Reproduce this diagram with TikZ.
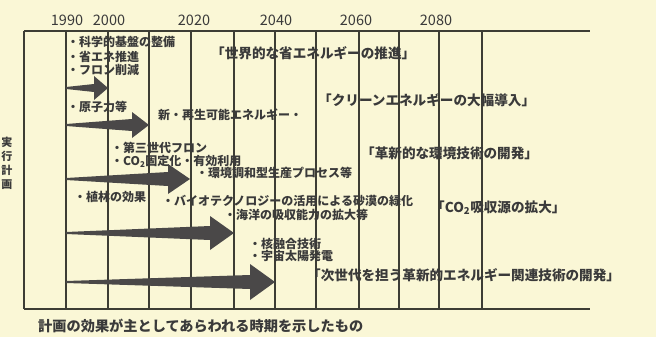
\documentclass[tikz,border=0pt]{standalone}
\usepackage{fontspec}
\setmainfont{Noto Sans CJK JP}
\newfontfamily\jp{Noto Sans CJK JP}
\definecolor{bg}{HTML}{FAF7D6}
\definecolor{ln}{HTML}{3D3D35}
\definecolor{txt}{HTML}{3A3A3A}
\definecolor{af}{HTML}{4A4848}
\newcommand\fatarrow[6]{%
  \fill[arr] (#1,{#2-1}) -- ({#3-#4},{#2-#6}) -- ({#3-#4},{#2-#5}) -- (#3,#2)
     -- ({#3-#4},{#2+#5}) -- ({#3-#4},{#2+#6}) -- (#1,{#2+1}) -- cycle;}
\begin{document}
\begin{tikzpicture}[x=1pt,y=-1pt,
  lbl/.style={anchor=west,inner sep=0pt,text=txt,font=\jp\bfseries\fontsize{12}{12}\selectfont},
  headl/.style={anchor=west,inner sep=0pt,text=txt,font=\jp\bfseries\fontsize{13.6}{14}\selectfont},
  yr/.style={inner sep=0pt,text=txt,font=\jp\fontsize{14.5}{15}\selectfont},
  gridl/.style={draw=ln,line width=1.1pt},
  arr/.style={fill=af}]
\fill[bg] (0,0) rectangle (656,337);
\useasboundingbox (0,0) rectangle (656,337);
% grid
\draw[gridl] (24,31) -- (590,31);
\draw[gridl] (24,309) -- (590,309);
\foreach \x in {24,66,108,149,191,234,275,316,359,399,439,482}
  \draw[gridl] (\x,31) -- (\x,309);
% years
\node[yr] (y1990) at (67,20) {1990};
\node[yr] (y2000) at (109,20) {2000};
\node[yr] (y2020) at (194,20) {2020};
\node[yr] (y2040) at (276,20) {2040};
\node[yr] (y2060) at (356,20) {2060};
\node[yr] (y2080) at (436,20) {2080};
% arrows
\fatarrow{66}{88}{108}{14}{12}{4}
\fatarrow{66}{125}{149}{17}{13}{6}
\fatarrow{66}{179}{190}{22}{15}{7}
\fatarrow{66}{233}{234}{24}{17}{7}
\fatarrow{66}{282}{275}{25}{18}{7}
% texts
\node[lbl] (t1) at (67,42) {・科学的基盤の整備};
\node[lbl] (t2) at (67,57) {・省エネ推進};
\node[lbl] (t3) at (67,70) {・フロン削減};
\node[headl] (h1) at (211,53) {「世界的な省エネルギーの推進」};
\node[lbl] (t4) at (67,107) {・原子力等};
\node[lbl] (t5) at (158,115) {新・再生可能エネルギー・};
\node[headl] (h2) at (318,100) {「クリーンエネルギーの大幅導入」};
\node[lbl] (t6) at (111,148) {・第三世代フロン};
\node[lbl] (t7) at (111,161) {・CO\textsubscript{2}固定化・有効利用};
\node[lbl] (t8) at (196,173) {・環境調和型生産プロセス等};
\node[headl] (h3) at (361,153) {「革新的な環境技術の開発」};
\node[lbl] (t9) at (74,197) {・植林の効果};
\node[lbl] (t10) at (162,201) {・バイオテクノロジーの活用による砂漠の緑化};
\node[lbl] (t11) at (224,215) {・海洋の吸収能力の拡大等};
\node[headl] (h4) at (431,208) {「CO\textsubscript{2}吸収源の拡大」};
\node[lbl] (t12) at (249,244) {・核融合技術};
\node[lbl] (t13) at (249,256) {・宇宙太陽発電};
\node[headl] (h5) at (307,275) {「次世代を担う革新的エネルギー関連技術の開発」};
\node[anchor=west,inner sep=0pt,text=txt,font=\jp\bfseries\fontsize{14.2}{15}\selectfont] (cap) at (38,326) {計画の効果が主としてあらわれる時期を示したもの};
\node[inner sep=0pt,text=txt,align=center,font=\jp\bfseries\fontsize{11}{14}\selectfont] (side) at (7,163) {実\\行\\計\\画};
\end{tikzpicture}
\end{document}
